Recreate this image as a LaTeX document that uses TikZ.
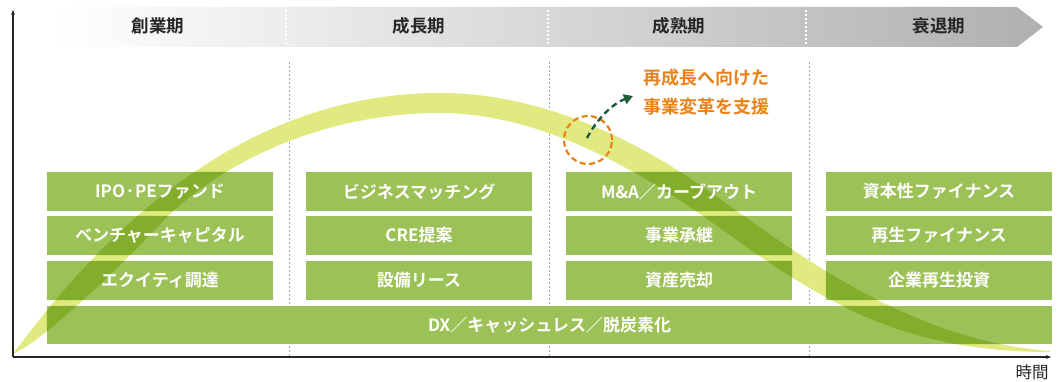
\documentclass[tikz,border=0pt]{standalone}
\usepackage{fontspec}
\setmainfont{Noto Sans CJK JP}[BoldFont={Noto Sans CJK JP Bold}]
\usetikzlibrary{arrows.meta}
\definecolor{boxgreen}{HTML}{9BC157}
\definecolor{bandlight}{HTML}{E0EA80}
\definecolor{banddark}{HTML}{83AE2B}
\definecolor{accent}{HTML}{E9821A}
\definecolor{arrowgreen}{HTML}{1E5C3C}
\definecolor{headgray}{HTML}{B0B0B0}
\definecolor{divgray}{HTML}{A8A8A8}
\pgfdeclarelayer{bg}
\pgfdeclarelayer{mid}
\pgfsetlayers{bg,mid,main}
\tikzset{
  boxtext/.style={minimum width=226pt, minimum height=39pt, inner sep=0pt,
    text=white, font=\bfseries\fontsize{17}{19}\selectfont},
  headtext/.style={font=\bfseries\fontsize{17.5}{19}\selectfont, text=black!85},
  divider/.style={divgray, line width=1pt, dash pattern=on 2pt off 2pt},
  hdivider/.style={white, line width=1.2pt, dash pattern=on 2pt off 2pt},
  axis/.style={black!85, line width=1.1pt, -{Stealth[length=5pt,width=4pt]}},
}
\def\bandpath{(13,354) .. controls (90,250) and (230,93) .. (440,93)
  .. controls (530,93) and (620,130) .. (700,185)
  .. controls (780,240) and (900,340) .. (1050,351)
  -- (1050,352) .. controls (900,352) and (820,300) .. (720,228)
  .. controls (640,170) and (540,113) .. (440,113)
  .. controls (320,113) and (220,165) .. (167,217)
  .. controls (125,262) and (45,340) .. (13,354) -- cycle}
\begin{document}
\begin{tikzpicture}[x=1pt,y=-1pt]
\useasboundingbox (0,0) rectangle (1060,382);
% header
\shade[left color=white, right color=headgray, shading angle=90]
  (55,7) -- (1017,7) -- (1043,27) -- (1017,47) -- (55,47) -- cycle;
\foreach \x in {286,548,806} \draw[hdivider] (\x,10) -- (\x,45);
\node[headtext] (h1) at (158,26) {創業期};
\node[headtext] (h2) at (419,26) {成長期};
\node[headtext] (h3) at (679,26) {成熟期};
\node[headtext] (h4) at (939,26) {衰退期};
% axes
\coordinate (o) at (13,357);
\coordinate (ytop) at (13,10);
\coordinate (xend) at (1051,357);
\draw[axis] (o) -- (ytop);
\draw[axis] (o) -- (xend);
\node[font=\fontsize{16.5}{18}\selectfont, text=black!85] (time) at (1032,372) {時間};
% box texts
\node[boxtext] (b11) at (160,191.5) {IPO·PEファンド};
\node[boxtext] (b12) at (160,235.5) {ベンチャーキャピタル};
\node[boxtext] (b13) at (160,280.5) {エクイティ調達};
\node[boxtext] (b21) at (419,191.5) {ビジネスマッチング};
\node[boxtext] (b22) at (419,235.5) {CRE提案};
\node[boxtext] (b23) at (419,280.5) {設備リース};
\node[boxtext] (b31) at (679,191.5) {M\&A／カーブアウト};
\node[boxtext] (b32) at (679,235.5) {事業承継};
\node[boxtext] (b33) at (679,280.5) {資産売却};
\node[boxtext] (b41) at (939,191.5) {資本性ファイナンス};
\node[boxtext] (b42) at (939,235.5) {再生ファイナンス};
\node[boxtext] (b43) at (939,280.5) {企業再生投資};
\node[boxtext, minimum width=1005pt, minimum height=38pt] (dx) at (549.5,325) {DX／キャッシュレス／脱炭素化};
\begin{pgfonlayer}{bg}
  \foreach \x in {289,549,809} \draw[divider] (\x,62) -- (\x,356);
  \fill[bandlight] \bandpath;
  \foreach \n in {b11,b12,b13,b21,b22,b23,b31,b32,b33,b41,b42,b43,dx}
    \fill[boxgreen] (\n.north west) rectangle (\n.south east);
\end{pgfonlayer}
\begin{pgfonlayer}{mid}
  \begin{scope}
    \clip (b11.north west) rectangle (b11.south east)
          (b12.north west) rectangle (b12.south east)
          (b13.north west) rectangle (b13.south east)
          (b21.north west) rectangle (b21.south east)
          (b22.north west) rectangle (b22.south east)
          (b23.north west) rectangle (b23.south east)
          (b31.north west) rectangle (b31.south east)
          (b32.north west) rectangle (b32.south east)
          (b33.north west) rectangle (b33.south east)
          (b41.north west) rectangle (b41.south east)
          (b42.north west) rectangle (b42.south east)
          (b43.north west) rectangle (b43.south east)
          (dx.north west) rectangle (dx.south east);
    \fill[banddark] \bandpath;
  \end{scope}
\end{pgfonlayer}
% highlight
\node[circle, draw=accent, line width=2.2pt, dash pattern=on 6pt off 3.5pt, minimum size=48pt, inner sep=0pt] (circ) at (588,140) {};
\coordinate (as) at (587,138);
\coordinate (ae) at (633,96);
\draw[arrowgreen, line width=2.4pt, dash pattern=on 6pt off 4pt, -{Triangle[length=9pt,width=10pt]}]
  (as) .. controls (597,119) and (612,104) .. (ae);
\node[anchor=west, align=left, text=accent, font=\bfseries\fontsize{18}{28.5}\selectfont, inner sep=0pt] (note) at (643,92) {再成長へ向けた\\事業変革を支援};
\end{tikzpicture}
\end{document}
